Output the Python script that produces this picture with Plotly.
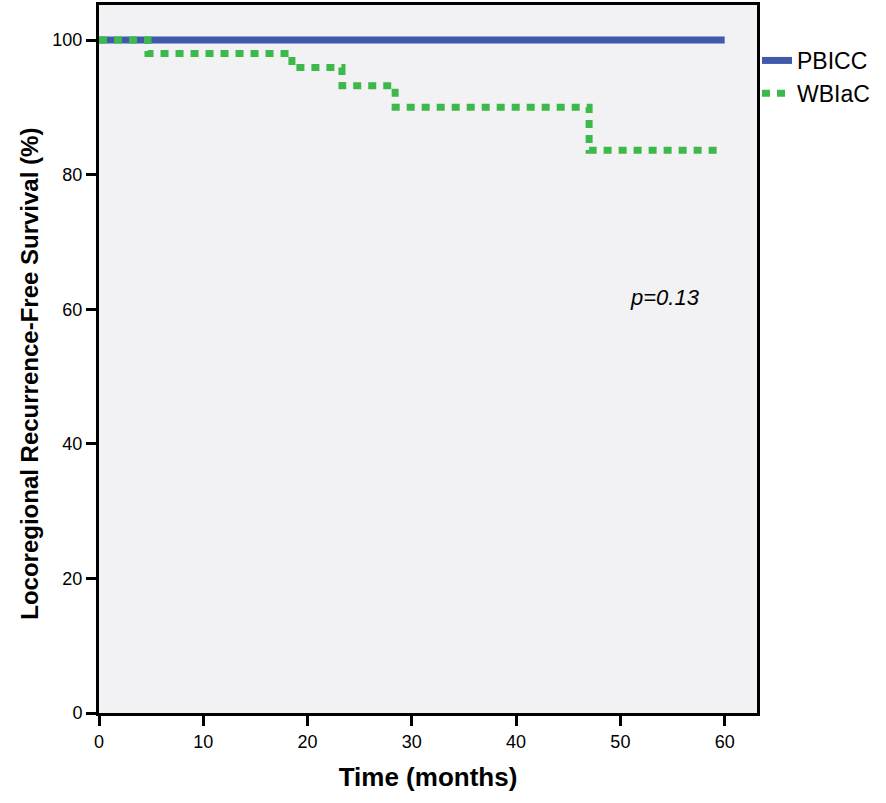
import plotly.graph_objects as go

# Kaplan-Meier step data
pbicc_time = [0, 60]
pbicc_surv = [100, 100]

wbiac_time = [0, 4.7, 18.5, 23.3, 28.4, 47.0, 59.9]
wbiac_surv = [100, 98.0, 95.9, 93.2, 90.0, 83.6, 83.6]

x_ticks = [0, 10, 20, 30, 40, 50, 60]
y_ticks = [0, 20, 40, 60, 80, 100]

fig = go.Figure()

fig.add_trace(go.Scatter(
    x=pbicc_time, y=pbicc_surv, mode="lines", name="PBICC",
    line=dict(color="#3f5aab", width=7, shape="hv"),
))
fig.add_trace(go.Scatter(
    x=wbiac_time, y=wbiac_surv, mode="lines", name="WBIaC",
    line=dict(color="#3cb94a", width=7, shape="hv", dash="8px,7px"),
))

fig.add_annotation(
    x=54.3, y=61.8, text="<i>p=0.13</i>", showarrow=False,
    font=dict(size=22, color="black"),
)
# y-axis title as annotation so it can sit a little below the centre, like the original
fig.add_annotation(
    xref="paper", yref="paper", x=-0.105, y=0.479, textangle=-90,
    text="<b>Locoregional Recurrence-Free Survival (%)</b>", showarrow=False,
    font=dict(size=24, color="black"), xanchor="center", yanchor="middle",
)

fig.update_layout(
    width=886, height=803,
    margin=dict(l=99, r=129, t=2, b=90),
    paper_bgcolor="white",
    plot_bgcolor="#f2f2f4",
    font=dict(family="Liberation Sans, Arial, sans-serif", color="black"),
    legend=dict(
        x=1.0, y=0.952, xanchor="left", yanchor="top",
        font=dict(size=23), bgcolor="rgba(0,0,0,0)",
        tracegroupgap=0, itemwidth=30,
    ),
)

fig.update_xaxes(
    range=[0, 63.1], tickvals=x_ticks, ticks="outside", ticklen=10, tickwidth=3,
    tickcolor="black", showline=True, linecolor="black", linewidth=3, mirror=True,
    showgrid=False, zeroline=False, tickfont=dict(size=18),
    title=dict(text="<b>Time (months)</b>", font=dict(size=26), standoff=18),
)
fig.update_yaxes(
    range=[0, 105.2], tickvals=y_ticks, ticks="outside", ticklen=10, tickwidth=3,
    tickcolor="black", showline=True, linecolor="black", linewidth=3, mirror=True,
    showgrid=False, zeroline=False, tickfont=dict(size=18),
)

# drop the browser's default 8px body margin so the figure sits at the corner
fig.write_html("out.html", config={"displayModeBar": False},
               post_script="document.body.style.margin='0';")
